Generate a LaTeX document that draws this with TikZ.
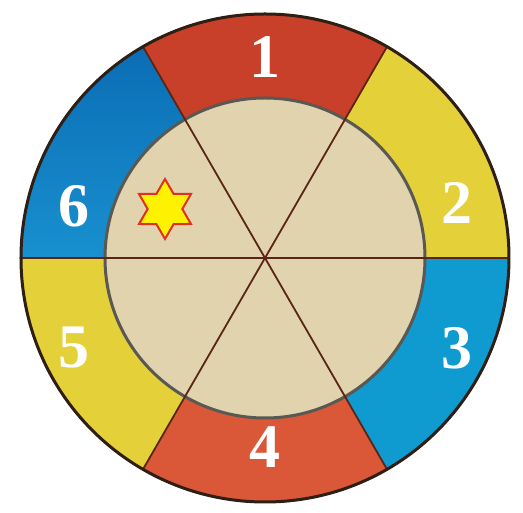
\documentclass[tikz,border=0pt]{standalone}
\usepackage{fontspec}
\setmainfont{Liberation Serif}
\usetikzlibrary{shapes.geometric}
\definecolor{wheelred}{HTML}{C8402A}
\definecolor{wheelorange}{HTML}{DA5838}
\definecolor{wheelyellow}{HTML}{E4D038}
\definecolor{wheelblue}{HTML}{0F9AD0}
\definecolor{wheeldeep}{HTML}{0B6DB5}
\definecolor{wheelsky}{HTML}{1890CE}
\definecolor{hubbeige}{HTML}{E2D3AF}
\definecolor{hubedge}{HTML}{595852}
\definecolor{rimbrown}{HTML}{2E1E14}
\definecolor{spokebrown}{HTML}{5B2515}
\definecolor{starred}{HTML}{E0301E}
\definecolor{staryellow}{HTML}{FFF200}

\begin{document}
\begin{tikzpicture}[
  x=1pt,y=1pt,
  seg1/.style={fill=wheelred},
  seg2/.style={fill=wheelyellow},
  seg3/.style={fill=wheelblue},
  seg4/.style={fill=wheelorange},
  seg5/.style={fill=wheelyellow},
  seg6/.style={top color=wheeldeep,bottom color=wheelsky},
  num/.style={text=white,inner sep=0pt,font=\bfseries\fontsize{62}{62}\selectfont},
  spoke/.style={draw=spokebrown,line width=1.8pt},
  mark6/.style={star,star points=6,star point ratio=1.73,minimum size=60pt,inner sep=0pt,
                fill=staryellow,draw=starred,line width=2pt}
]
\useasboundingbox (-265,-255) rectangle (258,258);
% coloured ring
\foreach \a/\s in {60/seg1,0/seg2,-60/seg3,-120/seg4,180/seg5,120/seg6}
  \path[\s] (\a:245) arc[start angle=\a,end angle=\a+60,radius=245]
    -- (\a+60:160) arc[start angle=\a+60,end angle=\a,radius=160] -- cycle;
% hub
\fill[hubbeige] (0,0) circle (160);
\draw[hubedge,line width=3pt] (0,0) circle (160);
% spokes
\foreach \a in {0,60,120}
  \draw[spoke] (\a:244) -- (\a+180:244);
\draw[rimbrown,line width=3pt] (0,0) circle (244);
% numbers
\node[num] (n1) at (0,201) {1};
\node[num] (n2) at (192,55) {2};
\node[num] (n3) at (192,-90) {3};
\node[num] (n4) at (0,-189) {4};
\node[num] (n5) at (-191,-90) {5};
\node[num] (n6) at (-191,52) {6};
\node[mark6] (star) at (-100,49) {};
\end{tikzpicture}
\end{document}
